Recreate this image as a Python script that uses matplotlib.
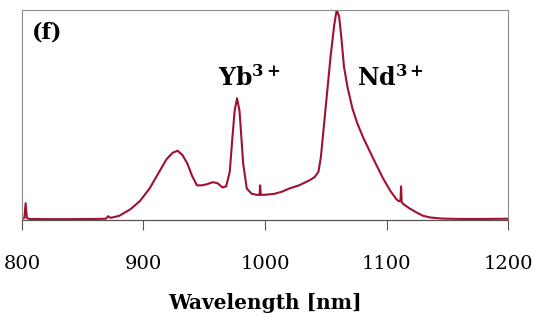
import matplotlib
matplotlib.use("Agg")
import matplotlib.pyplot as plt

wavelength = [800, 802, 803, 804, 806, 820, 840, 860, 869, 871, 873, 880, 889, 897, 905, 912, 919, 924,
              928, 932, 936, 940, 944, 948, 952, 957, 961, 965, 968, 971, 973, 975, 977, 979, 980, 982,
              985, 989, 993, 995.5, 996, 996.5, 1000, 1008, 1014, 1020, 1028, 1037, 1041, 1044, 1046,
              1048, 1051, 1054, 1057, 1059, 1061, 1063, 1065, 1068, 1072, 1076, 1081, 1086, 1091, 1097,
              1103, 1108, 1110, 1111.5, 1112, 1112.5, 1114, 1119, 1125, 1130, 1136, 1145, 1160, 1180, 1200]
intensity = [0.005, 0.01, 0.08, 0.01, 0.005, 0.004, 0.004, 0.005, 0.006, 0.018, 0.01, 0.02, 0.05, 0.09,
             0.15, 0.22, 0.29, 0.32, 0.33, 0.31, 0.27, 0.21, 0.165, 0.165, 0.17, 0.18, 0.175, 0.155, 0.16,
             0.23, 0.38, 0.52, 0.58, 0.52, 0.44, 0.27, 0.15, 0.125, 0.12, 0.12, 0.165, 0.12, 0.12, 0.125,
             0.135, 0.15, 0.165, 0.19, 0.205, 0.23, 0.3, 0.42, 0.6, 0.78, 0.93, 1.0, 0.97, 0.86, 0.73,
             0.63, 0.53, 0.46, 0.39, 0.33, 0.27, 0.2, 0.14, 0.1, 0.09, 0.09, 0.16, 0.085, 0.075, 0.055,
             0.035, 0.02, 0.012, 0.007, 0.005, 0.005, 0.006]
x_ticks = [800, 900, 1000, 1100, 1200]
xlabel = "Wavelength [nm]"
panel_label = "(f)"
peak_labels = [(r"$\mathbf{Yb^{3+}}$", 987, 0.636), (r"$\mathbf{Nd^{3+}}$", 1103, 0.636)]

plt.rcParams["mathtext.fontset"] = "dejavuserif"
serif = ["DejaVu Serif"]
fig = plt.figure(figsize=(5.39, 3.24), dpi=100)
ax = fig.add_axes([0.0408, 0.321, 0.9017, 0.648])
ax.plot(wavelength, intensity, color="#a01030", lw=1.5)
ax.set_xlim(800, 1200)
ax.set_ylim(0, 1.0)
ax.set_xticks(x_ticks)
ax.set_xticklabels([str(t) for t in x_ticks], family=serif, fontsize=14)
ax.set_yticks([])
ax.tick_params(axis="x", direction="out", length=7.5, width=0.8, color="#555555", pad=18)
for s in ["top", "right", "left"]:
    ax.spines[s].set_color("#8c8c8c")
    ax.spines[s].set_linewidth(0.8)
ax.spines["bottom"].set_color("#555555")
ax.spines["bottom"].set_linewidth(0.9)
ax.set_xlabel(xlabel, family=serif, fontweight="bold", fontsize=14.5, labelpad=14)
ax.text(0.02, 0.945, panel_label, transform=ax.transAxes, family=serif, fontweight="bold",
        fontsize=16, va="top", ha="left")
for txt, x, y in peak_labels:
    ax.text(x, y, txt, family=serif, fontsize=17, ha="center", va="baseline")
fig.savefig("out.png", dpi=100)
